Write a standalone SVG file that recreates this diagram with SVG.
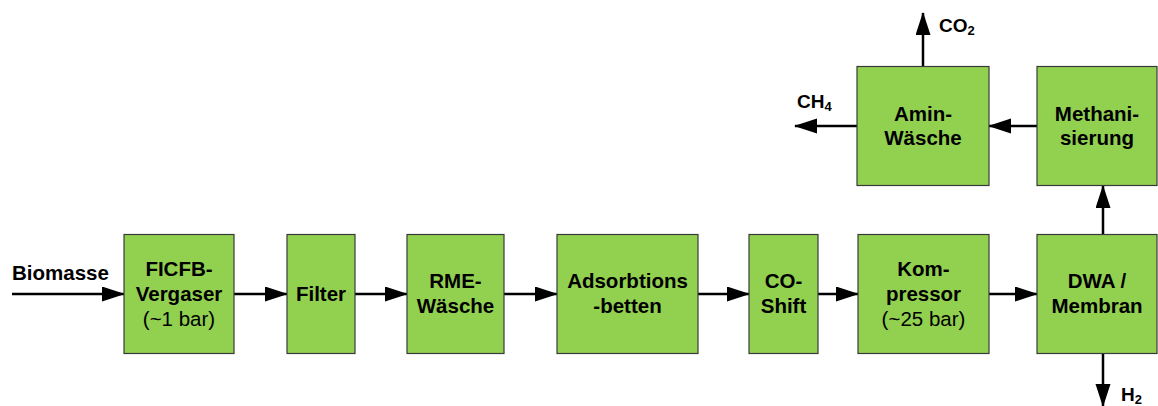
<svg xmlns="http://www.w3.org/2000/svg" width="1158" height="406" viewBox="0 0 1158 406">
<style>
.box{fill:#92D050;stroke:#3a3a3a;stroke-width:1.2}
.t{font-family:"Liberation Sans",Arial,sans-serif;font-size:20.5px;font-weight:bold;fill:#000;text-anchor:middle}
.r{font-weight:normal}
.lbl{font-family:"Liberation Sans",Arial,sans-serif;font-size:19px;font-weight:bold;fill:#000}
.sub{font-size:13px}
.c{fill:none;stroke:#000;stroke-width:2.5;marker-end:url(#ah)}
</style>
<defs>
<marker id="ah" markerUnits="userSpaceOnUse" markerWidth="23" markerHeight="16" refX="22" refY="7.5" orient="auto" viewBox="0 0 23 16">
<path d="M0,0 L23,7.5 L0,15 z" fill="#000"/>
</marker>
</defs>
<rect width="1158" height="406" fill="#fff"/>
<g id="connectors">
<path class="c" d="M12,294 H124"/>
<path class="c" d="M234,294 H287"/>
<path class="c" d="M355,294 H407"/>
<path class="c" d="M504,294 H557"/>
<path class="c" d="M698,294 H749"/>
<path class="c" d="M818,294 H858"/>
<path class="c" d="M989,294 H1037"/>
<path class="c" d="M1103,234 V186"/>
<path class="c" d="M1037,126 H989"/>
<path class="c" d="M857,126 H795"/>
<path class="c" d="M923,66 V13"/>
<path class="c" d="M1103,354 V406"/>
</g>
<g id="labels">
<text class="lbl" x="12" y="280" style="font-size:20.5px">Biomasse</text>
<text class="lbl" x="939" y="32">CO<tspan class="sub" dy="3">2</tspan></text>
<text class="lbl" x="797" y="108">CH<tspan class="sub" dy="3">4</tspan></text>
<text class="lbl" x="1121" y="401">H<tspan class="sub" dy="3">2</tspan></text>
</g>
<g id="ficfb">
<rect class="box" x="124" y="234.5" width="110" height="119"/>
<text class="t" x="179" y="276">FICFB-</text>
<text class="t" x="179" y="301">Vergaser</text>
<text class="t r" x="179" y="326">(~1 bar)</text>
</g>
<g id="filter">
<rect class="box" x="287" y="234.5" width="68" height="119"/>
<text class="t" x="321" y="301">Filter</text>
</g>
<g id="rme">
<rect class="box" x="407" y="234.5" width="97" height="119"/>
<text class="t" x="455.5" y="288">RME-</text>
<text class="t" x="455.5" y="312.5">Wäsche</text>
</g>
<g id="adsorb">
<rect class="box" x="557" y="234.5" width="141" height="119"/>
<text class="t" x="627.5" y="288">Adsorbtions</text>
<text class="t" x="627.5" y="312.5">-betten</text>
</g>
<g id="coshift">
<rect class="box" x="749" y="234.5" width="69" height="119"/>
<text class="t" x="783.5" y="288">CO-</text>
<text class="t" x="783.5" y="312.5">Shift</text>
</g>
<g id="kompressor">
<rect class="box" x="858" y="234.5" width="131" height="119"/>
<text class="t" x="923.5" y="276">Kom-</text>
<text class="t" x="923.5" y="301">pressor</text>
<text class="t r" x="923.5" y="326">(~25 bar)</text>
</g>
<g id="dwa">
<rect class="box" x="1037" y="234.5" width="120" height="119"/>
<text class="t" x="1097" y="288">DWA /</text>
<text class="t" x="1097" y="312.5">Membran</text>
</g>
<g id="amin">
<rect class="box" x="857" y="66.5" width="132" height="119"/>
<text class="t" x="923" y="120.5">Amin-</text>
<text class="t" x="923" y="145">Wäsche</text>
</g>
<g id="methan">
<rect class="box" x="1037" y="66.5" width="120" height="119"/>
<text class="t" x="1097" y="120.5">Methani-</text>
<text class="t" x="1097" y="145">sierung</text>
</g>
</svg>
